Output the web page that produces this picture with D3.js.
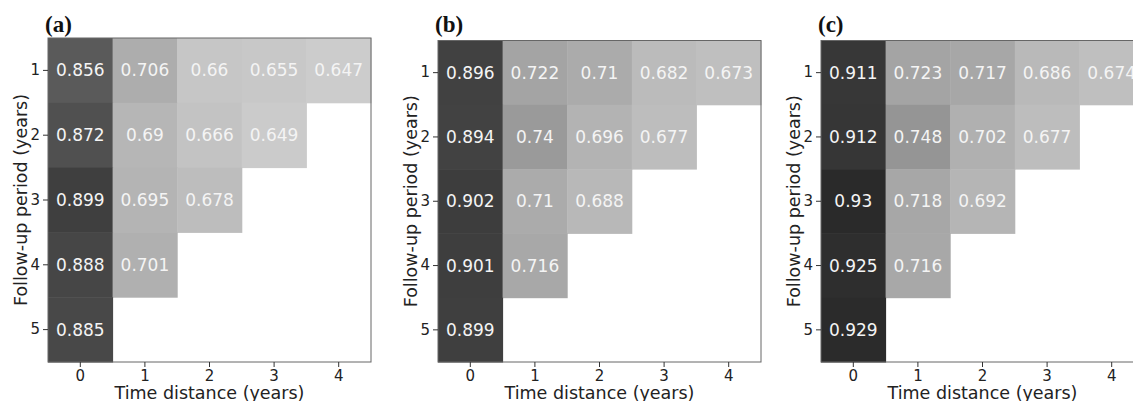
<!DOCTYPE html>
<html>
<head>
<meta charset="utf-8">
<script src="https://cdn.jsdelivr.net/npm/d3@7"></script>
<style>
  body { margin: 0; background: #fff; }
  svg { display: block; }
  .tick text { font-family: "DejaVu Sans", sans-serif; font-size: 15px; fill: #222; }
  .tick line { stroke: #333; }
</style>
</head>
<body>
<svg id="chart" width="1133" height="401"></svg>
<script>
// time distance (columns) and follow-up period (rows)
const distances = [0, 1, 2, 3, 4];
const periods = [1, 2, 3, 4, 5];
const panelNames = ["(a)", "(b)", "(c)"];

// one row per follow-up period, values for each time distance
const valuesA = [
  [0.856, 0.706, 0.66, 0.655, 0.647],
  [0.872, 0.69, 0.666, 0.649],
  [0.899, 0.695, 0.678],
  [0.888, 0.701],
  [0.885]
];
const valuesB = [
  [0.896, 0.722, 0.71, 0.682, 0.673],
  [0.894, 0.74, 0.696, 0.677],
  [0.902, 0.71, 0.688],
  [0.901, 0.716],
  [0.899]
];
const valuesC = [
  [0.911, 0.723, 0.717, 0.686, 0.674],
  [0.912, 0.748, 0.702, 0.677],
  [0.93, 0.718, 0.692],
  [0.925, 0.716],
  [0.929]
];

const svg = d3.select("#chart");

// layout for each panel
const panels = [
  { name: panelNames[0], values: valuesA, left: 48,  top: 38 },
  { name: panelNames[1], values: valuesB, left: 438, top: 40.5 },
  { name: panelNames[2], values: valuesC, left: 821, top: 40.5 }
];
const plotW = 323;
const bottom = 362;

const color = d3.scaleSequential(d3.interpolateGreys).domain([0.49, 1.0]);

panels.forEach(p => {
  const height = bottom - p.top;
  const g = svg.append("g").attr("transform", `translate(${p.left},${p.top})`);

  const x = d3.scaleBand().domain(distances).range([0, plotW]);
  const y = d3.scaleBand().domain(periods).range([0, height]);

  // flatten the triangle into cells
  const cells = [];
  p.values.forEach((row, i) => {
    row.forEach((v, j) => cells.push({ period: periods[i], dist: distances[j], v: v }));
  });

  g.selectAll("rect.cell")
    .data(cells)
    .enter()
    .append("rect")
    .attr("class", "cell")
    .attr("x", d => x(d.dist))
    .attr("y", d => y(d.period))
    .attr("width", x.bandwidth() + 0.5)
    .attr("height", y.bandwidth() + 0.5)
    .attr("fill", d => color(d.v));

  g.selectAll("text.val")
    .data(cells)
    .enter()
    .append("text")
    .attr("class", "val")
    .attr("x", d => x(d.dist) + x.bandwidth() / 2)
    .attr("y", d => y(d.period) + y.bandwidth() / 2)
    .attr("text-anchor", "middle")
    .attr("dominant-baseline", "central")
    .attr("font-family", "DejaVu Sans, sans-serif")
    .attr("font-size", 17)
    .attr("fill", "#f4f4f4")
    .text(d => d.v);

  // frame
  g.append("rect")
    .attr("width", plotW)
    .attr("height", height)
    .attr("fill", "none")
    .attr("stroke", "#666")
    .attr("stroke-width", 1);

  const xAxis = g.append("g")
    .attr("transform", `translate(0,${height})`)
    .call(d3.axisBottom(x).tickSize(5).tickPadding(3));
  xAxis.select(".domain").remove();

  const yAxis = g.append("g")
    .call(d3.axisLeft(y).tickSize(5).tickPadding(3));
  yAxis.select(".domain").remove();

  // axis titles
  svg.append("text")
    .attr("x", p.left + plotW / 2)
    .attr("y", 399)
    .attr("text-anchor", "middle")
    .attr("font-family", "DejaVu Sans, sans-serif")
    .attr("font-size", 17.5)
    .attr("fill", "#222")
    .text("Time distance (years)");

  svg.append("text")
    .attr("transform", `translate(${p.left - 21},${(p.top + bottom) / 2}) rotate(-90)`)
    .attr("text-anchor", "middle")
    .attr("font-family", "DejaVu Sans, sans-serif")
    .attr("font-size", 17.5)
    .attr("fill", "#222")
    .text("Follow-up period (years)");

  // panel letter
  svg.append("text")
    .attr("x", p.left - 3)
    .attr("y", 32)
    .attr("font-family", "Liberation Serif, serif")
    .attr("font-weight", "bold")
    .attr("font-size", 23)
    .attr("fill", "#111")
    .text(p.name);
});
</script>
</body>
</html>
